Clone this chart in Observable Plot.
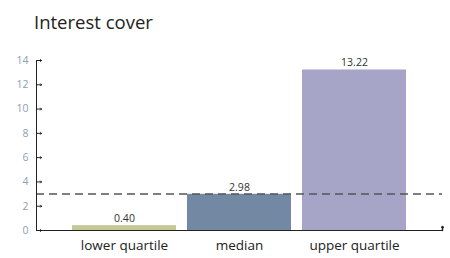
<!DOCTYPE html>
<html><head><meta charset="utf-8">
<script src="https://cdn.jsdelivr.net/npm/d3@7"></script>
<script src="https://cdn.jsdelivr.net/npm/@observablehq/plot@0.6"></script>
<style>
body{margin:0;background:#fff;font-family:"Open Sans",Roboto,sans-serif;}
#title{height:45px;box-sizing:border-box;padding:11px 0 0 34px;font-size:18.5px;color:#222;line-height:22px;}
</style></head>
<body>
<div id="title">Interest cover</div>
<div id="chart"></div>
<script>
const categories = ["lower quartile", "median", "upper quartile"];
const values = [0.40, 2.98, 13.22];
const labels = ["0.40", "2.98", "13.22"];
const colors = ["#c3c894", "#7288a3", "#a6a5c7"];
const threshold = [3];
const yTicks = [0, 2, 4, 6, 8, 10, 12, 14];

const data = categories.map((c, i) => ({category: c, value: values[i], label: labels[i], color: colors[i]}));

const chart = Plot.plot({
  width: 450,
  height: 213,
  marginLeft: 36,
  marginRight: 8,
  marginTop: 15,
  marginBottom: 28,
  style: {fontFamily: "'Open Sans', Roboto, sans-serif", background: "#fff"},
  x: {domain: categories, paddingInner: 0.1, paddingOuter: 0.31, label: null},
  y: {domain: [0, 14], label: null},
  marks: [
    Plot.barY(data, {x: "category", y: "value", fill: "color"}),
    Plot.text(data, {x: "category", y: "value", text: "label", dy: -7, fontSize: 10.5, fill: "#333"}),
    Plot.ruleY(threshold, {stroke: "#555", strokeWidth: 1.5, strokeDasharray: "8,5"}),
    Plot.axisY({ticks: yTicks, tickSize: 0, tickPadding: 8, fontSize: 10.5, color: "#8f9db5", label: null}),
    Plot.vector(yTicks, {y: d => d, frameAnchor: "left", length: 5, rotate: 90, anchor: "start", stroke: "#222", strokeWidth: 1}),
    Plot.vector([0], {y: d => d, frameAnchor: "right", length: 4, rotate: 0, anchor: "start", stroke: "#222", strokeWidth: 1.5}),
    Plot.axisX({tickSize: 0, tickPadding: 10, fontSize: 13.5, color: "#222", label: null}),
    Plot.frame({anchor: "left", stroke: "#222"}),
    Plot.frame({anchor: "bottom", stroke: "#222"})
  ]
});
document.getElementById("chart").appendChild(chart);
</script>
</body></html>
